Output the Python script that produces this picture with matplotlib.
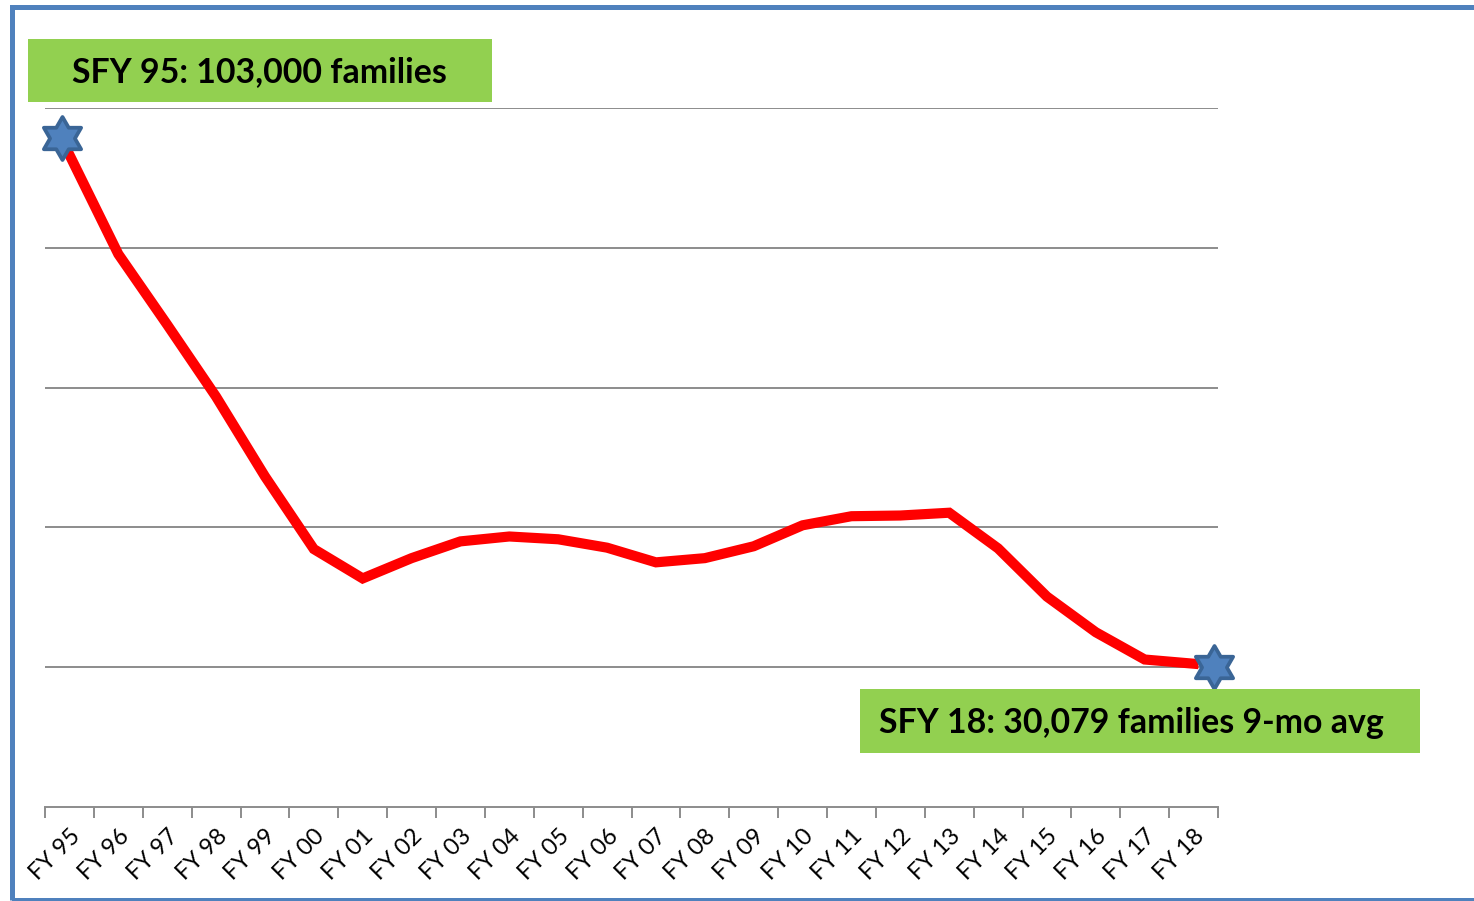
import matplotlib
matplotlib.use("Agg")
import matplotlib.pyplot as plt
import matplotlib.transforms as mtransforms
from matplotlib.path import Path
from matplotlib.patches import Rectangle
import numpy as np

categories = ["FY 95", "FY 96", "FY 97", "FY 98", "FY 99", "FY 00", "FY 01", "FY 02",
              "FY 03", "FY 04", "FY 05", "FY 06", "FY 07", "FY 08", "FY 09", "FY 10",
              "FY 11", "FY 12", "FY 13", "FY 14", "FY 15", "FY 16", "FY 17", "FY 18"]
families = [103300, 89100, 79000, 68700, 57300, 46900, 42700, 45600,
            48000, 48700, 48300, 47100, 45000, 45600, 47300, 50300,
            51600, 51700, 52100, 47000, 40100, 35000, 31100, 30500]
label_start = "SFY 95: 103,000 families"
label_end = "SFY 18: 30,079 families 9-mo avg"

W, H = 1474, 901
fig = plt.figure(figsize=(W / 100, H / 100), dpi=100)
plt.rcParams['font.family'] = ['Lato', 'DejaVu Sans']

def fx(px):
    return px / W

def fy(py):
    return 1 - py / H

ax = fig.add_axes([fx(45), fy(807), fx(1218) - fx(45), fy(108) - fy(807)])
x = np.arange(len(categories))
ax.plot(x, families, color="#FF0000", lw=7.3, solid_joinstyle="miter", zorder=3)

ax.set_xlim(-0.5, len(categories) - 0.5)
ax.set_ylim(10000, 110000)
ax.set_yticks(np.arange(30000, 110001, 20000))
ax.yaxis.grid(True, color="#8C8C8C", lw=1.4)
ax.tick_params(axis="y", left=False, labelleft=False)
for s in ["left", "right", "top"]:
    ax.spines[s].set_visible(False)
ax.spines["bottom"].set_color("#8C8C8C")
ax.spines["bottom"].set_linewidth(1.4)
ax.set_xticks(np.arange(-0.5, len(categories), 1.0))
ax.set_xticklabels([])
ax.set_xticks(x, minor=True)
ax.set_xticklabels(categories, minor=True, rotation=45, ha="right",
                   rotation_mode="anchor", fontsize=17)
ax.tick_params(axis="x", which="major", length=8, width=1.4, color="#8C8C8C", direction="out")
ax.tick_params(axis="x", which="minor", length=0, pad=13)
ax.set_axisbelow(True)

# hexagram marker
angles = np.deg2rad(90 + np.arange(12) * 30)
radii = np.array([1.0, 0.577] * 6)
verts = np.column_stack([radii * np.cos(angles), radii * np.sin(angles)])
verts = np.vstack([verts, verts[0]])
codes = [Path.MOVETO] + [Path.LINETO] * 11 + [Path.CLOSEPOLY]
star = Path(verts, codes)

off1 = mtransforms.ScaledTranslation(-7 / 100, 17 / 100, fig.dpi_scale_trans)
off2 = mtransforms.ScaledTranslation(20 / 100, -3 / 100, fig.dpi_scale_trans)
ax.plot([x[0]], [families[0]], marker=star, ms=31, mfc="#4F81BD", mec="#3A6596",
        mew=2.7, transform=ax.transData + off1, clip_on=False, zorder=5, ls="none")
ax.plot([x[-1]], [families[-1]], marker=star, ms=31, mfc="#4F81BD", mec="#3A6596",
        mew=2.7, transform=ax.transData + off2, clip_on=False, zorder=5, ls="none")

# green label boxes
for (x0, y0, x1, y1, txt, tx) in [(28, 39, 492, 102, label_start, 259),
                                   (860, 689, 1420, 753, label_end, 1131)]:
    fig.patches.append(Rectangle((fx(x0), fy(y1)), fx(x1) - fx(x0), fy(y0) - fy(y1),
                                 transform=fig.transFigure, facecolor="#92D050",
                                 edgecolor="none", zorder=6))
    fig.text(fx(tx), fy((y0 + y1) / 2 + 2), txt, ha="center", va="center",
             fontsize=24.4, fontweight="bold", color="black", zorder=7)

# outer blue frame
fig.patches.append(Rectangle((fx(11.5), fy(899.5)), fx(1500) - fx(11.5), fy(6.5) - fy(899.5),
                             transform=fig.transFigure, facecolor="none",
                             edgecolor="#4F81BD", lw=3.6, zorder=10, clip_on=False))

fig.savefig("out.png", dpi=100)
